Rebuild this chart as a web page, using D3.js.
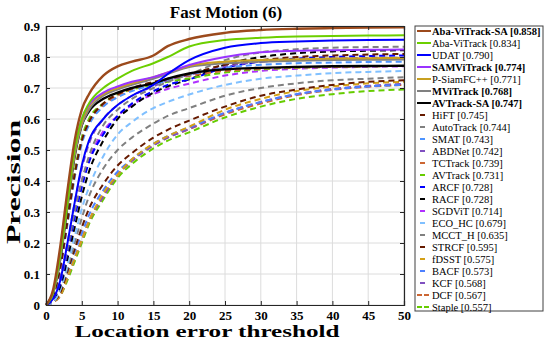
<!DOCTYPE html>
<html><head><meta charset="utf-8">
<script src="https://cdn.jsdelivr.net/npm/d3@7"></script>
<style>body{margin:0;background:#fff}svg{display:block}text{font-family:"Liberation Serif","Times New Roman",serif}</style>
</head><body>
<script>
const thresholds = [0,1,2,3,4,5,6,8,10,12,15,17,20,25,30,35,40,45,50];
const xTicks = [0,5,10,15,20,25,30,35,40,45,50];
const yTicks = [0,0.1,0.2,0.3,0.4,0.5,0.6,0.7,0.8,0.9];
const yTickLabels = ["0","0.1","0.2","0.3","0.4","0.5","0.6","0.7","0.8","0.9"];
const names = ["Aba-ViTrack-SA","Aba-ViTrack","UDAT","SAMViTrack","P-SiamFC++","MViTrack","AVTrack-SA","HiFT","AutoTrack","SMAT","ABDNet","TCTrack","AVTrack","ARCF","RACF","SGDViT","ECO_HC","MCCT_H","STRCF","fDSST","BACF","KCF","DCF","Staple"];
const scores = ["0.858","0.834","0.790","0.774","0.771","0.768","0.747","0.745","0.744","0.743","0.742","0.739","0.731","0.728","0.728","0.714","0.679","0.635","0.595","0.575","0.573","0.568","0.567","0.557"];
const boldNames = ["Aba-ViTrack-SA","SAMViTrack","MViTrack","AVTrack-SA"];
const colors = ["#9c4a1c","#6ccf00","#0000ff","#9933ff","#c8a020","#808080","#000000","#661a00","#808080","#4d94ff","#8050c0","#cc6633","#66cc00","#0000ff","#000000","#b030ff","#80c0ff","#808080","#661a00","#d4a017","#4d80ff","#8050c0","#cc6633","#66cc00"];
const dashed = [false,false,false,false,false,false,false,true,true,true,true,true,true,true,true,true,true,true,true,true,true,true,true,true];
const values = [
 [0,0.05,0.19,0.37,0.53,0.63,0.68,0.74,0.77,0.785,0.805,0.835,0.858,0.878,0.887,0.891,0.893,0.895,0.896],
 [0,0.04,0.16,0.33,0.50,0.60,0.65,0.70,0.73,0.755,0.78,0.80,0.834,0.855,0.862,0.866,0.868,0.869,0.870],
 [0,0.02,0.08,0.20,0.33,0.45,0.53,0.60,0.645,0.675,0.71,0.745,0.790,0.830,0.845,0.850,0.853,0.855,0.856],
 [0,0.04,0.16,0.34,0.50,0.60,0.645,0.685,0.705,0.72,0.735,0.75,0.774,0.80,0.815,0.82,0.822,0.823,0.824],
 [0,0.04,0.16,0.33,0.49,0.59,0.64,0.68,0.70,0.715,0.735,0.75,0.771,0.785,0.79,0.793,0.795,0.796,0.797],
 [0,0.04,0.15,0.32,0.48,0.58,0.63,0.675,0.695,0.71,0.73,0.745,0.768,0.78,0.785,0.788,0.79,0.791,0.792],
 [0,0.04,0.15,0.32,0.48,0.58,0.625,0.665,0.685,0.70,0.715,0.73,0.747,0.76,0.765,0.768,0.77,0.771,0.772],
 [0,0.03,0.12,0.27,0.42,0.53,0.59,0.65,0.68,0.70,0.72,0.73,0.745,0.775,0.79,0.80,0.805,0.808,0.81],
 [0,0.02,0.08,0.18,0.30,0.40,0.48,0.58,0.63,0.665,0.70,0.72,0.744,0.79,0.815,0.825,0.83,0.832,0.833],
 [0,0.03,0.12,0.26,0.41,0.52,0.58,0.64,0.67,0.69,0.71,0.725,0.743,0.765,0.775,0.78,0.782,0.784,0.785],
 [0,0.02,0.09,0.20,0.33,0.44,0.52,0.60,0.645,0.675,0.705,0.725,0.742,0.77,0.785,0.79,0.795,0.797,0.798],
 [0,0.03,0.12,0.27,0.42,0.53,0.59,0.645,0.675,0.695,0.715,0.727,0.739,0.755,0.762,0.766,0.768,0.77,0.771],
 [0,0.03,0.13,0.28,0.43,0.54,0.60,0.65,0.68,0.695,0.71,0.72,0.731,0.75,0.76,0.765,0.768,0.77,0.771],
 [0,0.02,0.07,0.17,0.28,0.38,0.46,0.55,0.61,0.65,0.69,0.71,0.728,0.765,0.785,0.795,0.80,0.803,0.805],
 [0,0.02,0.06,0.15,0.25,0.35,0.43,0.53,0.60,0.64,0.685,0.705,0.728,0.775,0.80,0.812,0.818,0.82,0.822],
 [0,0.02,0.08,0.18,0.30,0.40,0.47,0.56,0.61,0.645,0.68,0.697,0.714,0.74,0.755,0.762,0.766,0.768,0.77],
 [0,0.01,0.05,0.13,0.22,0.31,0.38,0.48,0.55,0.59,0.635,0.655,0.679,0.71,0.73,0.74,0.748,0.752,0.755],
 [0,0.01,0.05,0.12,0.20,0.28,0.35,0.44,0.50,0.54,0.585,0.61,0.635,0.675,0.70,0.715,0.725,0.73,0.735],
 [0,0.01,0.04,0.11,0.18,0.25,0.31,0.39,0.45,0.49,0.54,0.565,0.595,0.64,0.675,0.695,0.71,0.72,0.725],
 [0,0.01,0.03,0.09,0.15,0.21,0.27,0.36,0.42,0.47,0.52,0.545,0.575,0.63,0.665,0.69,0.705,0.715,0.72],
 [0,0.01,0.04,0.10,0.17,0.23,0.29,0.37,0.43,0.47,0.52,0.545,0.573,0.62,0.655,0.68,0.695,0.705,0.71],
 [0,0.01,0.03,0.09,0.15,0.21,0.27,0.35,0.42,0.465,0.515,0.54,0.568,0.62,0.655,0.68,0.697,0.707,0.713],
 [0,0.01,0.03,0.09,0.15,0.21,0.27,0.35,0.42,0.465,0.515,0.54,0.567,0.615,0.65,0.677,0.694,0.704,0.71],
 [0,0.01,0.03,0.08,0.14,0.20,0.26,0.34,0.41,0.455,0.505,0.53,0.557,0.605,0.64,0.665,0.68,0.69,0.695]
];

const W = 550, H = 341;
const svg = d3.select("body").append("svg").attr("width", W).attr("height", H);
const x = d3.scaleLinear().domain([0,50]).range([46,404]);
const y = d3.scaleLinear().domain([0,0.9]).range([305,26]);

// grid
svg.append("g").selectAll("line").data(xTicks).join("line")
  .attr("x1", d=>x(d)).attr("x2", d=>x(d)).attr("y1", y(0)).attr("y2", y(0.9))
  .attr("stroke", "#dcdcdc").attr("stroke-width", 1);
svg.append("g").selectAll("line").data(yTicks).join("line")
  .attr("x1", x(0)).attr("x2", x(50)).attr("y1", d=>y(d)).attr("y2", d=>y(d))
  .attr("stroke", "#dcdcdc").attr("stroke-width", 1);

// curves
const line = d3.line().x((d,i)=>x(thresholds[i])).y(d=>y(d)).curve(d3.curveMonotoneX);
const order = d3.range(names.length).reverse();
svg.append("g").selectAll("path").data(order).join("path")
  .attr("d", i=>line(values[i]))
  .attr("fill", "none")
  .attr("stroke", i=>colors[i])
  .attr("stroke-width", i=> i===0 || i===6 ? 2.4 : 2)
  .attr("stroke-dasharray", i=>dashed[i] ? "6,4" : null);

// axes
const gx = svg.append("g").attr("transform", `translate(0,${y(0)})`)
  .call(d3.axisBottom(x).tickValues(xTicks).tickSize(-4).tickPadding(6).tickFormat(d3.format("d")));
const gxt = svg.append("g").attr("transform", `translate(0,${y(0.9)})`)
  .call(d3.axisTop(x).tickValues(xTicks).tickSize(-4).tickFormat(""));
const gy = svg.append("g").attr("transform", `translate(${x(0)},0)`)
  .call(d3.axisLeft(y).tickValues(yTicks).tickSize(-4).tickPadding(6).tickFormat((d,i)=>yTickLabels[i]));
const gyr = svg.append("g").attr("transform", `translate(${x(50)},0)`)
  .call(d3.axisRight(y).tickValues(yTicks).tickSize(-4).tickFormat(""));
[gx,gxt,gy,gyr].forEach(g=>{
  g.select(".domain").attr("stroke","#262626").attr("stroke-width",1.2);
  g.selectAll(".tick line").attr("stroke","#262626");
  g.selectAll("text").attr("font-family","Liberation Serif").attr("font-weight","bold").attr("font-size",13).attr("fill","#000");
});

// title & labels
svg.append("text").attr("x", 226).attr("y", 18).attr("text-anchor","middle")
  .attr("font-weight","bold").attr("font-size",17).text("Fast Motion (6)");
svg.append("text").attr("x", 207).attr("y", 337).attr("text-anchor","middle")
  .attr("font-weight","bold").attr("font-size",17)
  .attr("textLength",265).attr("lengthAdjust","spacingAndGlyphs").text("Location error threshold");
svg.append("text").attr("transform","translate(20,182) rotate(-90)").attr("text-anchor","middle")
  .attr("font-weight","bold").attr("font-size",18)
  .attr("textLength",124).attr("lengthAdjust","spacingAndGlyphs").text("Precision");

// legend
const lg = svg.append("g");
lg.append("rect").attr("x",415).attr("y",26).attr("width",128).attr("height",285)
  .attr("fill","#fff").attr("stroke","#404040").attr("stroke-width",1);
const ly = d3.scaleLinear().domain([0, names.length-1]).range([31, 307]);
const items = lg.selectAll("g.item").data(names).join("g").attr("class","item")
  .attr("transform",(d,i)=>`translate(0,${ly(i)})`);
items.append("line").attr("x1",417).attr("x2",431).attr("y1",0).attr("y2",0)
  .attr("stroke",(d,i)=>colors[i]).attr("stroke-width",2)
  .attr("stroke-dasharray",(d,i)=>dashed[i] ? (i>=22 ? "5,2" : "0,3,5,20") : null);
items.append("text").attr("x",432).attr("y",3.8)
  .attr("font-size",10.5)
  .attr("font-weight",d=>boldNames.includes(d) ? "bold" : "normal")
  .text((d,i)=>`${d} [${scores[i]}]`);
</script>
</body></html>
